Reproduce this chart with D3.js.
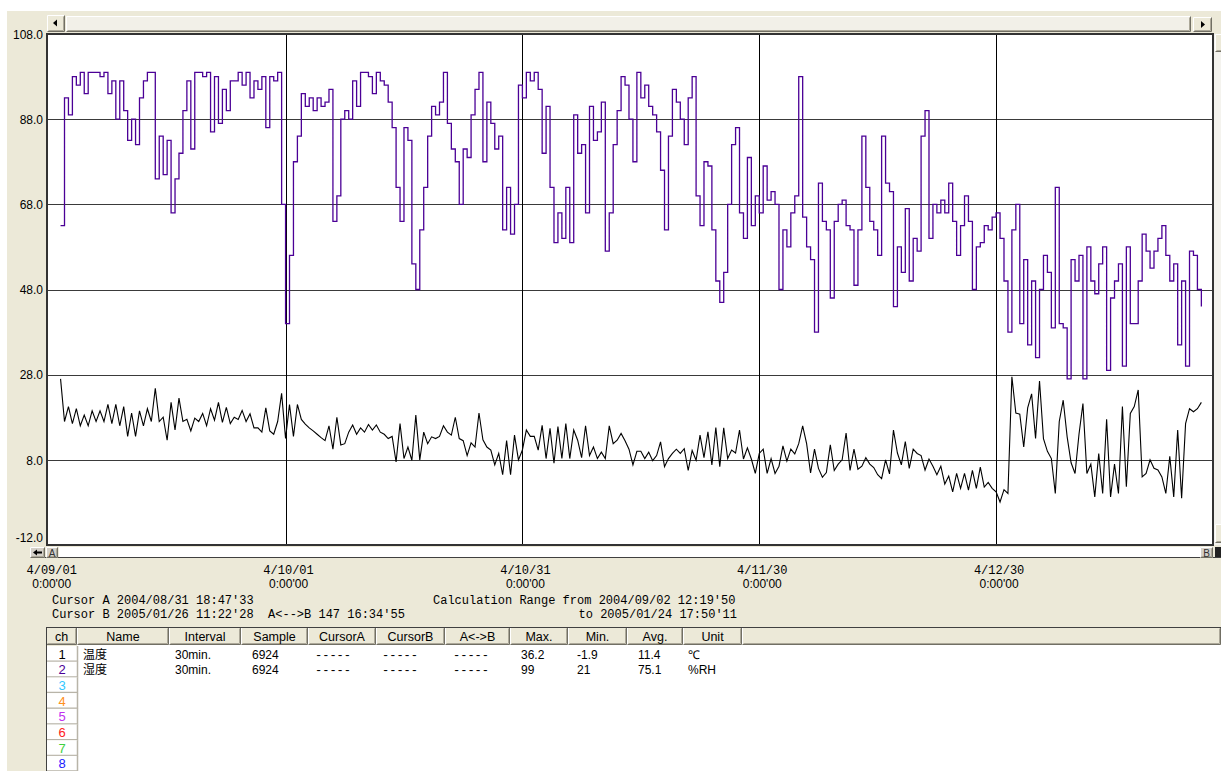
<!DOCTYPE html>
<html>
<head>
<meta charset="utf-8">
<script src="https://cdn.jsdelivr.net/npm/d3@7"></script>
<style>
  body { margin: 0; background: #fff; }
  svg { display: block; }
  .sans { font-family: "Liberation Sans", Arial, sans-serif; font-size: 12px; fill: #000; }
  .mono { font-family: "Liberation Mono", "DejaVu Sans Mono", monospace; font-size: 12px; fill: #000; }
  .jp { font-family: "Noto Sans CJK JP", sans-serif; font-size: 12px; fill: #000; }
</style>
</head>
<body>
<svg id="chart" width="1221" height="771"></svg>
<script>
// ---- logger record: two channels sampled every 12 h from 2004/09/02 12:00 ----
const viewStart = "2004-08-31T18:47:33Z";
const viewEnd = "2005-01-26T11:22:28Z";
const sampleStart = "2004-09-02T12:00:00Z";
const sampleStepHours = 12;

const humidity = [
  63,93,89,98,96,99,94,99,99,99,98,99,94,97,88,97,90,83,88,82,
  93,97,99,99,74,84,75,83,66,74,80,90,97,81,99,99,98,99,85,98,
  87,95,90,97,97,99,96,99,93,97,95,98,86,98,97,99,68,40,56,78,
  84,94,91,93,90,93,91,92,95,64,70,88,90,88,97,91,99,99,98,94,
  99,97,96,92,86,72,64,86,83,54,48,62,72,84,91,89,92,99,87,81,
  78,68,81,79,89,95,99,78,92,87,81,84,62,72,61,68,96,93,99,97,
  99,95,80,91,72,59,66,60,72,59,89,80,82,66,91,83,85,92,57,66,
  82,90,98,96,88,78,99,93,96,91,89,85,76,62,84,95,92,88,82,93,
  98,70,63,78,77,62,50,45,52,68,82,86,66,60,79,63,70,66,77,69,
  71,68,48,62,58,66,70,98,65,58,55,38,73,64,62,46,64,68,69,63,
  62,49,62,84,72,64,62,56,84,73,71,44,58,52,67,50,60,57,84,90,
  60,68,66,69,66,73,64,56,63,70,64,48,58,59,63,62,65,66,60,50,
  38,62,68,40,55,35,50,32,48,56,52,39,72,40,39,27,55,50,56,27,
  58,50,47,54,58,29,46,50,54,30,58,40,40,50,61,57,53,57,60,63,
  56,50,54,35,50,30,57,56,48,44
];

const temperature = [
  27,17,20.5,16.5,20,16,18.5,16,19.5,17,19.5,17,21,16.5,21,16,20.5,13.5,19,13.5,
  19.5,16,20,17,24.8,17,18,12.6,21.5,15,22.5,17,17.5,14.8,17.8,17,18.9,16,20,17.3,
  21.5,16.8,20.3,16.5,18,17.5,19.6,17,18.8,15.5,15.5,14.5,20.2,14.8,14,17,23.6,13,21,13.5,
  21,17.5,16.4,15.5,14.8,14,13.2,12.5,16,10.5,18,11.5,11.8,14.5,16.2,14,15.5,14.5,16.3,15,
  16.2,14.5,14,13,13.5,7.5,16.5,8.3,11,7.9,18.5,8,14.5,11.8,13.4,13,13.5,16,14.5,13.8,
  18,13,12.5,9,12,11,19,12.7,11,10.3,6.8,9.5,4.5,12.5,4.5,13.8,8,10.3,15,13.5,
  13.5,10.3,16.1,8.3,15.4,7.2,15.8,8.3,16.5,8.3,15,12.6,8.5,16,9,11,8.3,9.8,8.3,16,
  11.8,12.6,14.2,12.5,10.5,6.8,10,10,8.3,9.8,7.8,9,12.2,6.4,8.3,9.5,10.5,9.5,10.6,5.5,
  10.2,7.9,13.8,8.5,14.6,6.8,15.6,6.4,15.5,8.3,10.3,9.6,15,8.2,10.8,8.2,4.8,9.5,10.5,4.8,
  8.3,4.8,6.5,11.3,7.7,10.5,9.4,11.8,16,11.8,4.9,10.5,6,3.9,5,11.5,5.5,7,8,14.3,
  5.5,10.5,5.8,6.5,8.5,7,6.2,4.5,3.6,8,4.7,15,9.6,6.8,12.3,6,10.5,9.5,9,5.6,
  8.2,6.5,4.5,6.5,2.3,4.2,0.5,4.8,1.3,4.8,0.9,5.5,1.3,6.3,1.6,2.7,1.3,0.5,-1.9,1,
  0.1,27.5,19,18.7,11,20.2,23.5,13,26.5,13,10,8.3,0.1,17,22,13.4,7.3,4.8,14,21.2,
  4.8,7,-0.7,9.5,0.1,17.5,-0.7,7,0.1,20.5,1.7,18.9,20.5,24.4,4,4.8,8,6,5.6,4,
  0.1,8.8,-0.7,15,-1,16.5,20,19.3,20,21.5
];

const yTicks = [-12, 8, 28, 48, 68, 88, 108];
const dateTicks = ["2004-09-01T00:00:00Z", "2004-10-01T00:00:00Z", "2004-10-31T00:00:00Z", "2004-11-30T00:00:00Z", "2004-12-30T00:00:00Z"];
const dateTickLabels = ["4/09/01", "4/10/01", "4/10/31", "4/11/30", "4/12/30"];
const timeTickLabel = "0:00'00";

const cursorLines = ["Cursor A 2004/08/31 18:47'33", "Cursor B 2005/01/26 11:22'28  A<-->B 147 16:34'55"];
const rangeLines = ["Calculation Range from 2004/09/02 12:19'50", "to 2005/01/24 17:50'11"];

// channel table
const tableHeaders = ["ch", "Name", "Interval", "Sample", "CursorA", "CursorB", "A<->B", "Max.", "Min.", "Avg.", "Unit", ""];
const channelNames = ["温度", "湿度"];
const channelIntervals = ["30min.", "30min."];
const channelSamples = ["6924", "6924"];
const channelCursorA = ["-----", "-----"];
const channelCursorB = ["-----", "-----"];
const channelSpan = ["-----", "-----"];
const channelMax = ["36.2", "99"];
const channelMin = ["-1.9", "21"];
const channelAvg = ["11.4", "75.1"];
const channelUnits = ["℃", "%RH"];
const channelNumbers = [1, 2, 3, 4, 5, 6, 7, 8];
const channelColors = ["#000000", "#4B0096", "#33C8FF", "#FF9020", "#C030F0", "#FF2020", "#40D040", "#2020FF"];

// ---- layout ----
const W = 1221, H = 771;
const plot = { left: 47, right: 1213, top: 34, bottom: 545 };
const colEdges = [46, 77, 169, 241, 308, 376, 445, 510, 568, 627, 683, 742, 1221];
const colTextX = [null, 83, 175, 252, 315, 382, 453, 521, 577, 638, 688];
const headerTop = 627, headerBottom = 645, rowTop = 646, rowH = 15.7;
const face = "#ECE9D8";

const svg = d3.select("#chart");

function raised(x, y, w, h, fill) {
  const g = svg.append("g");
  g.append("rect").attr("x", x).attr("y", y).attr("width", w).attr("height", h).attr("fill", fill || face);
  g.append("path").attr("d", `M${x + 0.5},${y + h - 0.5}V${y + 0.5}H${x + w - 0.5}`)
    .attr("stroke", "#fff").attr("fill", "none");
  g.append("path").attr("d", `M${x + 0.5},${y + h - 0.5}H${x + w - 0.5}V${y + 0.5}`)
    .attr("stroke", "#716F64").attr("fill", "none");
  g.append("path").attr("d", `M${x + 1.5},${y + h - 1.5}H${x + w - 1.5}V${y + 1.5}`)
    .attr("stroke", "#ACA899").attr("fill", "none");
  return g;
}

// window background
svg.append("rect").attr("width", W).attr("height", H).attr("fill", "#fff");
svg.append("rect").attr("x", 7).attr("y", 11).attr("width", W - 7).attr("height", H - 11).attr("fill", face);

// top scroll bar
raised(47, 15, 18, 17);
svg.append("path").attr("d", "M53,23L57,19.5V26.5Z").attr("fill", "#000");
raised(66, 16, 1125, 16, "#F2F0E8");
raised(1193, 17, 19, 15);
svg.append("path").attr("d", "M1205,24.5L1201,21V28Z").attr("fill", "#000");

// scales
const x = d3.scaleUtc().domain([new Date(viewStart), new Date(viewEnd)]).range([plot.left, plot.right]);
const y = d3.scaleLinear().domain([-12, 108]).range([plot.bottom, plot.top]);
const t0 = new Date(sampleStart).getTime();
const timeAt = i => new Date(t0 + i * sampleStepHours * 3600e3);

// plot area
svg.append("rect").attr("x", plot.left).attr("y", plot.top)
  .attr("width", plot.right - plot.left).attr("height", plot.bottom - plot.top).attr("fill", "#fff");

svg.append("clipPath").attr("id", "plotClip").append("rect")
  .attr("x", plot.left).attr("y", plot.top)
  .attr("width", plot.right - plot.left).attr("height", plot.bottom - plot.top);

// horizontal grid
svg.append("g").selectAll("line")
  .data(yTicks.filter(v => v > -12 && v < 108)).join("line")
  .attr("x1", plot.left).attr("x2", plot.right)
  .attr("y1", d => Math.round(y(d)) + 0.5).attr("y2", d => Math.round(y(d)) + 0.5)
  .attr("stroke", "#3a3a3a").attr("stroke-width", 1);

// vertical date grid
svg.append("g").selectAll("line")
  .data(dateTicks.filter(d => x(new Date(d)) > plot.left + 3)).join("line")
  .attr("x1", d => Math.round(x(new Date(d))) + 0.5).attr("x2", d => Math.round(x(new Date(d))) + 0.5)
  .attr("y1", plot.top).attr("y2", plot.bottom)
  .attr("stroke", "#000").attr("stroke-width", 1);

// series
const series = svg.append("g").attr("clip-path", "url(#plotClip)");
const humLine = d3.line().x((d, i) => x(timeAt(i))).y(d => y(d)).curve(d3.curveStepAfter);
const tmpLine = d3.line().x((d, i) => x(timeAt(i))).y(d => y(d));
series.append("path").datum(humidity).attr("d", humLine)
  .attr("fill", "none").attr("stroke", "#4B0096").attr("stroke-width", 1.3);
series.append("path").datum(temperature).attr("d", tmpLine)
  .attr("fill", "none").attr("stroke", "#000").attr("stroke-width", 1.1);

// plot frame
svg.append("rect").attr("x", plot.left).attr("y", plot.top)
  .attr("width", plot.right - plot.left).attr("height", plot.bottom - plot.top)
  .attr("fill", "none").attr("stroke", "#333").attr("stroke-width", 2);

// y axis labels
const yAxis = d3.axisLeft(y).tickValues(yTicks).tickSize(0).tickPadding(4).tickFormat(d => d.toFixed(1));
const yg = svg.append("g").attr("transform", `translate(${plot.left},0)`).call(yAxis);
yg.select(".domain").remove();
yg.selectAll("text").attr("class", "sans").attr("font-family", null).attr("font-size", null)
  .attr("dy", d => d === -12 ? "-0.3em" : "0.35em").style("fill", "#000");

// right scroll bar
svg.append("rect").attr("x", 1214).attr("y", 34).attr("width", 7).attr("height", 511).attr("fill", "#F4F3EE");
raised(1215, 34, 9, 18);
raised(1215, 524, 9, 19);

// bottom cursor strip
svg.append("rect").attr("x", 59).attr("y", 547).attr("width", 1141).attr("height", 10).attr("fill", "#fff");
svg.append("line").attr("x1", 30).attr("x2", 1221).attr("y1", 557.5).attr("y2", 557.5).attr("stroke", "#404040");
raised(30, 547, 15, 11, "#D4D0C8");
svg.append("path").attr("d", "M33,552.5L37,549.5V551.5H42V553.5H37V555.5Z").attr("fill", "#000");
raised(46, 547, 12, 11, "#D4D0C8");
svg.append("text").attr("class", "sans").attr("x", 52).attr("y", 556.5).attr("text-anchor", "middle")
  .style("font-size", "10px").style("fill", "#333").text("A");
raised(1200, 547, 13, 11, "#D4D0C8");
svg.append("text").attr("class", "sans").attr("x", 1206.5).attr("y", 556.5).attr("text-anchor", "middle")
  .style("font-size", "10px").style("fill", "#333").text("B");
svg.append("rect").attr("x", 1215).attr("y", 547).attr("width", 6).attr("height", 10).attr("fill", "#222");

// date labels
const xl = svg.append("g").selectAll("g").data(dateTicks).join("g")
  .attr("transform", d => `translate(${x(new Date(d)) + 3},0)`);
xl.append("text").attr("class", "mono").attr("y", 574).attr("text-anchor", "middle")
  .text((d, i) => dateTickLabels[i]);
xl.append("text").attr("class", "sans").attr("y", 588).attr("text-anchor", "middle")
  .text(timeTickLabel);

// cursor / range info
svg.append("g").selectAll("text").data(cursorLines).join("text")
  .attr("class", "mono").attr("x", 52).attr("y", (d, i) => 604 + i * 14)
  .attr("xml:space", "preserve").style("white-space", "pre").text(d => d);
svg.append("text").attr("class", "mono").attr("x", 433).attr("y", 604).text(rangeLines[0]);
svg.append("text").attr("class", "mono").attr("x", 737).attr("y", 618).attr("text-anchor", "end").text(rangeLines[1]);

// ---- channel table ----
svg.append("rect").attr("x", 77).attr("y", headerBottom).attr("width", W - 77).attr("height", H - headerBottom).attr("fill", "#fff");
tableHeaders.forEach((h, k) => {
  const x0 = colEdges[k], x1 = colEdges[k + 1];
  raised(x0, headerTop, x1 - x0, headerBottom - headerTop);
  if (h) svg.append("text").attr("class", "sans").attr("x", (x0 + x1) / 2).attr("y", 641)
    .attr("text-anchor", "middle").style("font-size", "12.5px").text(h);
});
svg.append("line").attr("x1", 46).attr("x2", W).attr("y1", headerTop + 0.5).attr("y2", headerTop + 0.5).attr("stroke", "#404040");
svg.append("line").attr("x1", 46.5).attr("x2", 46.5).attr("y1", headerTop).attr("y2", H).attr("stroke", "#404040");

// channel number cells
const chCells = svg.append("g").selectAll("g").data(channelNumbers).join("g")
  .attr("transform", (d, i) => `translate(0,${rowTop + i * rowH})`);
chCells.append("rect").attr("x", 47).attr("y", 0).attr("width", 30).attr("height", rowH).attr("fill", "#fff");
chCells.append("path").attr("d", `M47,${rowH - 0.5}H77.5V0`).attr("stroke", "#B8B4A8").attr("stroke-width", 1.5).attr("fill", "none");
chCells.append("text").attr("class", "sans").attr("x", 62).attr("y", 12.5).attr("text-anchor", "middle")
  .style("fill", (d, i) => channelColors[i]).style("font-size", "13px").text(d => d);

// channel rows
const rowColumns = [channelNames, channelIntervals, channelSamples, channelCursorA, channelCursorB,
  channelSpan, channelMax, channelMin, channelAvg, channelUnits];
channelNames.forEach((_, r) => {
  rowColumns.forEach((col, c) => {
    const cls = c === 0 ? "jp" : (c >= 3 && c <= 5 ? "mono" : "sans");
    svg.append("text").attr("class", cls)
      .attr("x", colTextX[c + 1]).attr("y", rowTop + r * rowH + 12.5)
      .text(col[r]);
  });
});
</script>
</body>
</html>
